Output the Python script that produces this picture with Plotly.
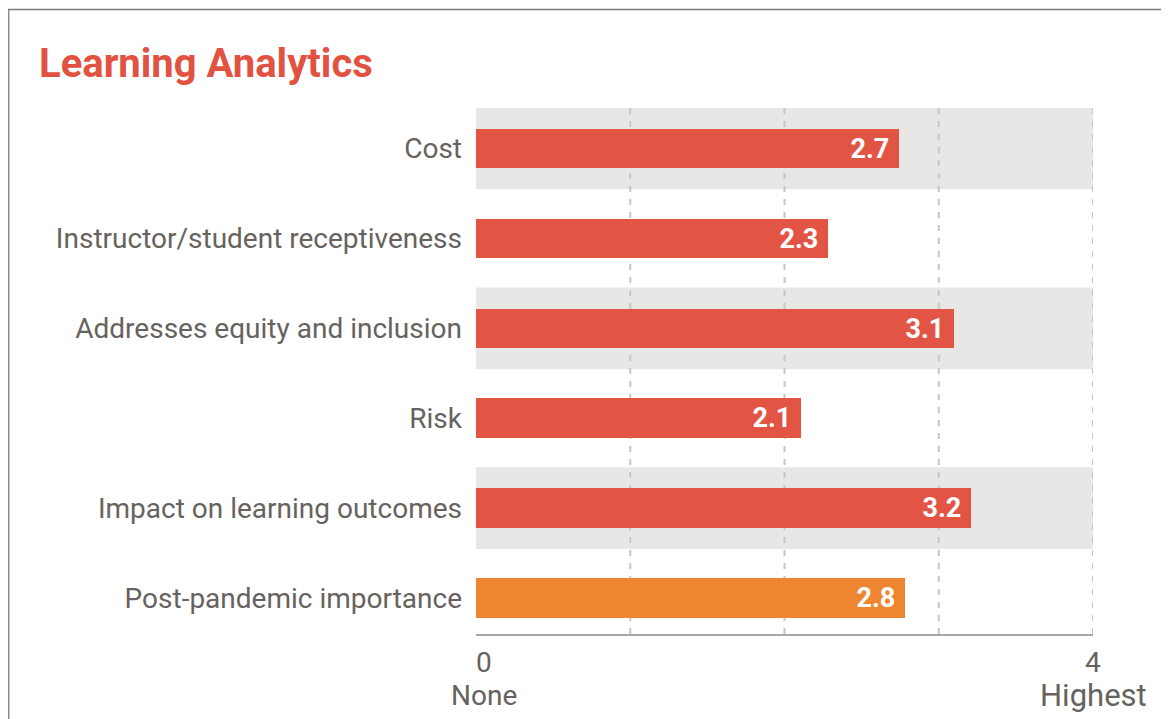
import plotly.graph_objects as go

categories = ["Cost", "Instructor/student receptiveness", "Addresses equity and inclusion",
              "Risk", "Impact on learning outcomes", "Post-pandemic importance"]
scores = [2.74, 2.28, 3.10, 2.11, 3.21, 2.78]
bar_colors = ["#E25444", "#E25444", "#E25444", "#E25444", "#E25444", "#EE8631"]
banded_rows = [0, 2, 4]
grid_values = [1, 2, 3, 4]
axis_ticks = [0, 4]
axis_tick_words = ["None", "Highest"]

OFF = 8  # page body margin
W, H = 1169 - OFF, 719 - OFF
L, R, T, B = 476 - OFF, 76, 108 - OFF, 85
pw, ph = W - L - R, H - T - B

TEXT = "#67625E"
FONT = "Roboto"
Y_RANGE = [5.4, -0.45]

ypos = list(range(len(categories)))

fig = go.Figure()
fig.add_trace(go.Bar(
    x=scores, y=ypos, orientation="h",
    marker=dict(color=bar_colors, line=dict(width=0)),
    width=0.44,
    text=[f"{v:.1f}\u00a0" for v in scores],
    textposition="inside", insidetextanchor="end",
    textfont=dict(family=FONT, size=27, color="white", weight="bold"),
    hoverinfo="skip", cliponaxis=False,
))

def px_x(p):
    return (p - OFF - L) / pw
def px_y(p):
    return (H - B - (p - OFF)) / ph

shapes = []
for r in banded_rows:
    shapes.append(dict(type="rect", xref="x", yref="y", x0=0, x1=4,
                       y0=r - 0.455, y1=r + 0.455, fillcolor="#E8E7E5",
                       line=dict(width=0), layer="below"))
for g in grid_values:
    shapes.append(dict(type="line", xref="x", yref="y", x0=g, x1=g,
                       y0=Y_RANGE[1], y1=Y_RANGE[0],
                       line=dict(color="#C6C6C6", width=2, dash="6px,7px"), layer="below"))
# frame
shapes.append(dict(type="line", xref="paper", yref="paper",
                   x0=px_x(8), x1=px_x(1169), y0=px_y(9.5), y1=px_y(9.5),
                   line=dict(color="#7A7A7A", width=1.5)))
shapes.append(dict(type="line", xref="paper", yref="paper",
                   x0=px_x(8.7), x1=px_x(8.7), y0=px_y(9.5), y1=px_y(719),
                   line=dict(color="#8A8A8A", width=1.5)))

annotations = [dict(text="<b>Learning Analytics</b>", xref="paper", yref="paper",
                    x=px_x(37), y=px_y(63), xanchor="left", yanchor="middle",
                    showarrow=False, font=dict(family=FONT, size=40, color="#E25241"))]
for v, w, dx, sz in zip(axis_ticks, axis_tick_words, [8, 0], [28, 31]):
    annotations.append(dict(text=str(v), x=v, xref="x", yref="paper", y=px_y(662),
                            yanchor="middle", xanchor="center", xshift=dx, showarrow=False,
                            font=dict(family=FONT, size=28, color=TEXT)))
    annotations.append(dict(text=w, x=v, xref="x", yref="paper", y=px_y(695),
                            yanchor="middle", xanchor="center", xshift=dx, showarrow=False,
                            font=dict(family=FONT, size=sz, color=TEXT)))

fig.update_layout(
    width=W, height=H,
    margin=dict(l=L, r=R, t=T, b=B, autoexpand=False),
    paper_bgcolor="white", plot_bgcolor="white",
    showlegend=False, bargap=0,
    shapes=shapes, annotations=annotations,
    xaxis=dict(range=[0, 4], tickvals=grid_values, showticklabels=False,
               showgrid=False, zeroline=False, showline=True,
               linecolor="#A8A8A8", linewidth=2, fixedrange=True),
    yaxis=dict(range=Y_RANGE, tickvals=ypos, ticktext=categories,
               showgrid=False, zeroline=False, ticks="", ticklabelstandoff=13,
               tickfont=dict(family=FONT, size=28, color=TEXT),
               fixedrange=True),
)

fig.write_html("out.html")
